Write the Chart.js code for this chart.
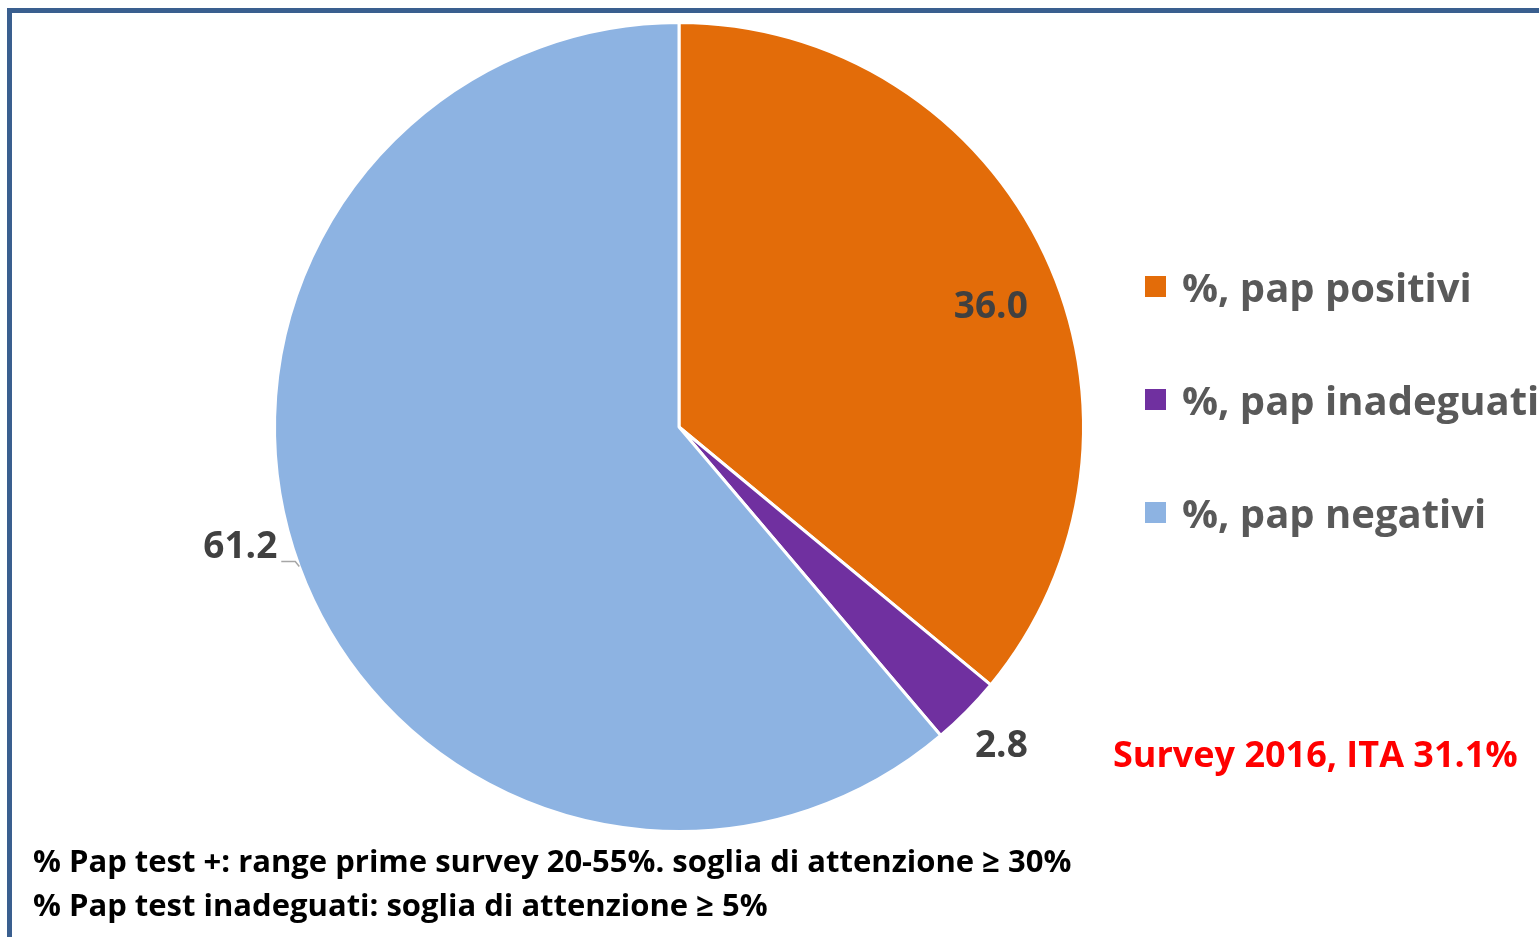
<!DOCTYPE html>
<html>
<head>
<meta charset="utf-8">
<script src="https://cdn.jsdelivr.net/npm/chart.js@4.4.1/dist/chart.umd.min.js"></script>
<style>
  html, body { margin: 0; padding: 0; background: #fff; }
  body { width: 1539px; height: 937px; position: relative; overflow: hidden; font-family: "Open Sans", "Noto Sans", sans-serif; }
  .frame { position: absolute; left: 7px; top: 8px; width: 1600px; height: 1000px; border-top: 5px solid #3A5F8F; border-left: 5px solid #3A5F8F; }
  #wrap { position: absolute; left: 0; top: 0; width: 1539px; height: 937px; }
  .legend { position: absolute; left: 1145px; top: 230px; width: 600px; }
  .legend .item { display: flex; align-items: center; height: 113px; white-space: nowrap; }
  .legend .box { width: 21px; height: 21px; margin-right: 16px; flex: none; }
  .legend .txt { color: #595959; font-weight: bold; font-size: 40px; }
  .note { position: absolute; left: 1113px; top: 729px; color: #FF0000; font-weight: bold; font-size: 36px; white-space: nowrap; }
  .foot { position: absolute; left: 33px; color: #000; font-weight: bold; font-size: 31px; white-space: nowrap; }
</style>
</head>
<body>
<div class="frame"></div>
<div id="wrap"><canvas id="pie" width="1539" height="937"></canvas></div>
<div class="legend" id="legend"></div>
<div class="note">Survey 2016, ITA 31.1%</div>
<div class="foot" style="top:839px">% Pap test +: range prime survey 20-55%. soglia di attenzione ≥ 30%</div>
<div class="foot" style="top:883px">% Pap test inadeguati: soglia di attenzione ≥ 5%</div>
<script>
const categories = ['%, pap positivi', '%, pap inadeguati', '%, pap negativi'];
const values = [36.0, 2.8, 61.2];
const sliceColors = ['#E36C09', '#7030A0', '#8DB3E2'];

// label placement: fraction of radius along the slice's mid angle, plus a small nudge
const labelRadius = [0.83, 1.12, 1.0];
const labelNudge = [[8, 23], [0, 1], [0, 0]];

const legendEl = document.getElementById('legend');
categories.forEach((c, i) => {
  const row = document.createElement('div');
  row.className = 'item';
  row.innerHTML = `<span class="box" style="background:${sliceColors[i]}"></span><span class="txt">${c}</span>`;
  legendEl.appendChild(row);
});

const sliceLabels = {
  id: 'sliceLabels',
  afterDatasetsDraw(chart) {
    const ctx = chart.ctx;
    const meta = chart.getDatasetMeta(0);
    ctx.save();
    ctx.font = 'bold 37px "Open Sans", "Noto Sans", sans-serif';
    ctx.fillStyle = '#404040';
    ctx.textBaseline = 'middle';
    meta.data.forEach((arc, i) => {
      const p = arc.getProps(['x', 'y', 'outerRadius', 'startAngle', 'endAngle'], true);
      const mid = (p.startAngle + p.endAngle) / 2;
      const txt = values[i].toFixed(1);
      if (i === 2) {
        // outside label with a small leader line
        const ax = p.x + Math.cos(mid) * p.outerRadius;
        const ay = p.y + Math.sin(mid) * p.outerRadius;
        ctx.strokeStyle = '#A6A6A6';
        ctx.lineWidth = 1.5;
        ctx.beginPath();
        ctx.moveTo(ax, ay);
        ctx.lineTo(ax - 4, ay - 5);
        ctx.lineTo(ax - 18, ay - 5);
        ctx.stroke();
        ctx.textAlign = 'right';
        ctx.fillText(txt, ax - 22, ay - 19);
      } else {
        const r = p.outerRadius * labelRadius[i];
        ctx.textAlign = 'center';
        ctx.fillText(txt, p.x + Math.cos(mid) * r + labelNudge[i][0], p.y + Math.sin(mid) * r + labelNudge[i][1]);
      }
    });
    ctx.restore();
  }
};

new Chart(document.getElementById('pie').getContext('2d'), {
  type: 'pie',
  data: {
    labels: categories,
    datasets: [{
      data: values,
      backgroundColor: sliceColors,
      borderColor: '#FFFFFF',
      borderWidth: 3
    }]
  },
  options: {
    responsive: false,
    animation: false,
    layout: { padding: { left: 273, right: 454, top: 21, bottom: 104 } },
    plugins: {
      legend: { display: false },
      tooltip: { enabled: false }
    }
  },
  plugins: [sliceLabels]
});
</script>
</body>
</html>
